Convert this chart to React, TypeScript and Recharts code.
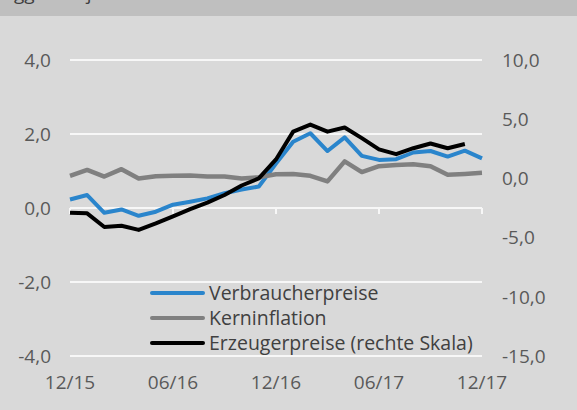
import { LineChart, Line, XAxis, YAxis, CartesianGrid, Legend, ReferenceLine } from "recharts";

const months = [
  "12/15", "01/16", "02/16", "03/16", "04/16", "05/16", "06/16", "07/16", "08/16", "09/16", "10/16", "11/16",
  "12/16", "01/17", "02/17", "03/17", "04/17", "05/17", "06/17", "07/17", "08/17", "09/17", "10/17", "11/17", "12/17",
];

// left scale, % y/y
const verbraucherpreise = [0.23, 0.35, -0.13, -0.04, -0.21, -0.1, 0.09, 0.17, 0.26, 0.4, 0.5, 0.58, 1.2, 1.79, 2.02, 1.54, 1.91, 1.41, 1.3, 1.32, 1.5, 1.54, 1.39, 1.55, 1.34];
const kerninflation = [0.87, 1.03, 0.85, 1.05, 0.8, 0.86, 0.87, 0.88, 0.85, 0.85, 0.8, 0.83, 0.91, 0.92, 0.87, 0.72, 1.26, 0.97, 1.13, 1.16, 1.18, 1.13, 0.9, 0.92, 0.95];
// right scale
const erzeugerpreise = [-2.9, -2.95, -4.1, -4.0, -4.35, -3.8, -3.2, -2.6, -2.05, -1.4, -0.6, 0.0, 1.6, 3.95, 4.55, 3.95, 4.3, 3.4, 2.45, 2.05, 2.55, 2.95, 2.55, 2.9, null];

const labelMonths = ["12/15", "06/16", "12/16", "06/17", "12/17"];
const leftTicks = [-4, -2, 0, 2, 4];
const rightTicks = [-15, -10, -5, 0, 5, 10];

const series = [
  { key: "vpi", name: "Verbraucherpreise", color: "#2a85cc", axis: "left", width: 4 },
  { key: "kern", name: "Kerninflation", color: "#808080", axis: "left", width: 4.5 },
  { key: "ppi", name: "Erzeugerpreise (rechte Skala)", color: "#000000", axis: "right", width: 4 },
];

const data = months.map((m, i) => ({
  month: m,
  vpi: verbraucherpreise[i],
  kern: kerninflation[i],
  ppi: erzeugerpreise[i],
}));

const FONT = "'Open Sans', sans-serif";
const fmt = (v: number) => v.toFixed(1).replace(".", ",");

const renderLegend = () => (
  <div style={{ fontFamily: FONT, fontSize: 19.5, color: "#404040", lineHeight: "25px", whiteSpace: "nowrap" }}>
    {series.map((s) => (
      <div key={s.key} style={{ display: "flex", alignItems: "center" }}>
        <span style={{ display: "inline-block", width: 55, height: 4, background: s.color, borderRadius: 2, marginRight: 4 }} />
        {s.name}
      </div>
    ))}
  </div>
);

export default function App() {
  const tick = { fontSize: 19, fill: "#595959", fontFamily: FONT };
  return (
    <div style={{ position: "absolute", left: 0, top: 0, width: 577, height: 410, background: "#d9d9d9", overflow: "hidden" }}>
      <div style={{ position: "absolute", left: 0, top: 0, width: 577, height: 16, background: "#bfbfbf", overflow: "hidden" }}>
        <span style={{ position: "absolute", left: 14, top: -16, fontFamily: FONT, fontSize: 19, lineHeight: "19px", color: "#404040", whiteSpace: "nowrap" }}>
          ggü. Vorjahr in %
        </span>
      </div>
      <LineChart width={577} height={410} data={data} margin={{ top: 60, right: 10, bottom: 14, left: 10 }}>
        <CartesianGrid yAxisId="left" vertical={false} stroke="#f7f7f7" strokeWidth={2} />
        <XAxis
          dataKey="month"
          interval={5}
          axisLine={false}
          tickLine={false}
          tickSize={6}
          tickMargin={14}
          height={40}
          tick={tick}
        />
        <YAxis
          yAxisId="left"
          domain={[-4, 4]}
          ticks={leftTicks}
          tickFormatter={fmt}
          axisLine={false}
          tickLine={false}
          tickSize={6}
          tickMargin={13}
          width={60}
          tick={tick}
        />
        <YAxis
          yAxisId="right"
          orientation="right"
          domain={[-15, 10]}
          ticks={rightTicks}
          tickFormatter={fmt}
          axisLine={false}
          tickLine={false}
          tickSize={6}
          tickMargin={14}
          width={85}
          tick={{ ...tick, textAnchor: "start" }}
        />
        {labelMonths.map((m) => (
          <ReferenceLine
            key={m}
            yAxisId="left"
            segment={[{ x: m, y: 0 }, { x: m, y: -0.16 }]}
            stroke="#f7f7f7"
            strokeWidth={2}
          />
        ))}
        <Legend
          layout="vertical"
          align="center"
          verticalAlign="middle"
          content={renderLegend}
          wrapperStyle={{ left: 150, top: 280, width: "auto", height: "auto" }}
        />
        {series.map((s) => (
          <Line
            key={s.key}
            yAxisId={s.axis}
            type="linear"
            dataKey={s.key}
            name={s.name}
            stroke={s.color}
            strokeWidth={s.width}
            strokeLinejoin="round"
            dot={false}
            activeDot={false}
            isAnimationActive={false}
          />
        ))}
      </LineChart>
    </div>
  );
}
